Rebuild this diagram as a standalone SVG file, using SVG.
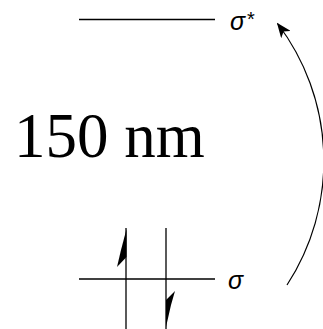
<svg xmlns="http://www.w3.org/2000/svg" width="323" height="329" viewBox="0 0 323 329">
<style>
.lvl{stroke:#000;stroke-width:1.6;fill:none}
.spin{stroke:#000;stroke-width:1.3;fill:none}
.lbl{font-family:"Liberation Sans",Arial,sans-serif;font-size:25px;font-style:italic;fill:#000}
.ast{font-family:"Liberation Sans",Arial,sans-serif;font-size:20px;fill:#000}
.big{font-family:"Liberation Serif","Times New Roman",serif;font-size:63px;fill:#000}
.conn{stroke:#000;stroke-width:1.2;fill:none}
</style>
<defs>
<marker id="ah" viewBox="0 0 15 12" refX="14" refY="6" markerWidth="15" markerHeight="12" markerUnits="userSpaceOnUse" orient="auto">
<path d="M0,0 L15,6 L0,12 L4,6 Z" fill="#000"/>
</marker>
</defs>
<rect width="323" height="329" fill="#fff"/>
<g id="sigma-star">
<line class="lvl" x1="79" y1="19.5" x2="215" y2="19.5"/>
<text class="lbl" x="230" y="30">σ</text>
<text class="ast" x="247" y="26">*</text>
</g>
<g id="sigma">
<line class="lvl" x1="79" y1="279" x2="215" y2="279"/>
<line class="spin" x1="126" y1="228" x2="126" y2="329"/>
<line class="spin" x1="166" y1="228" x2="166" y2="329"/>
<polygon points="126.5,229 126.5,257 117,267 121,250" fill="#000"/>
<polygon points="166,327 166,300 175,291 171,305" fill="#000"/>
<text class="lbl" x="228" y="289">σ</text>
</g>
<g id="label">
<text class="big" x="14" y="157">150 nm</text>
</g>
<g id="connectors">
<path class="conn" d="M 287 285 A 227 227 0 0 0 277.5 23.5" marker-end="url(#ah)"/>
</g>
</svg>
